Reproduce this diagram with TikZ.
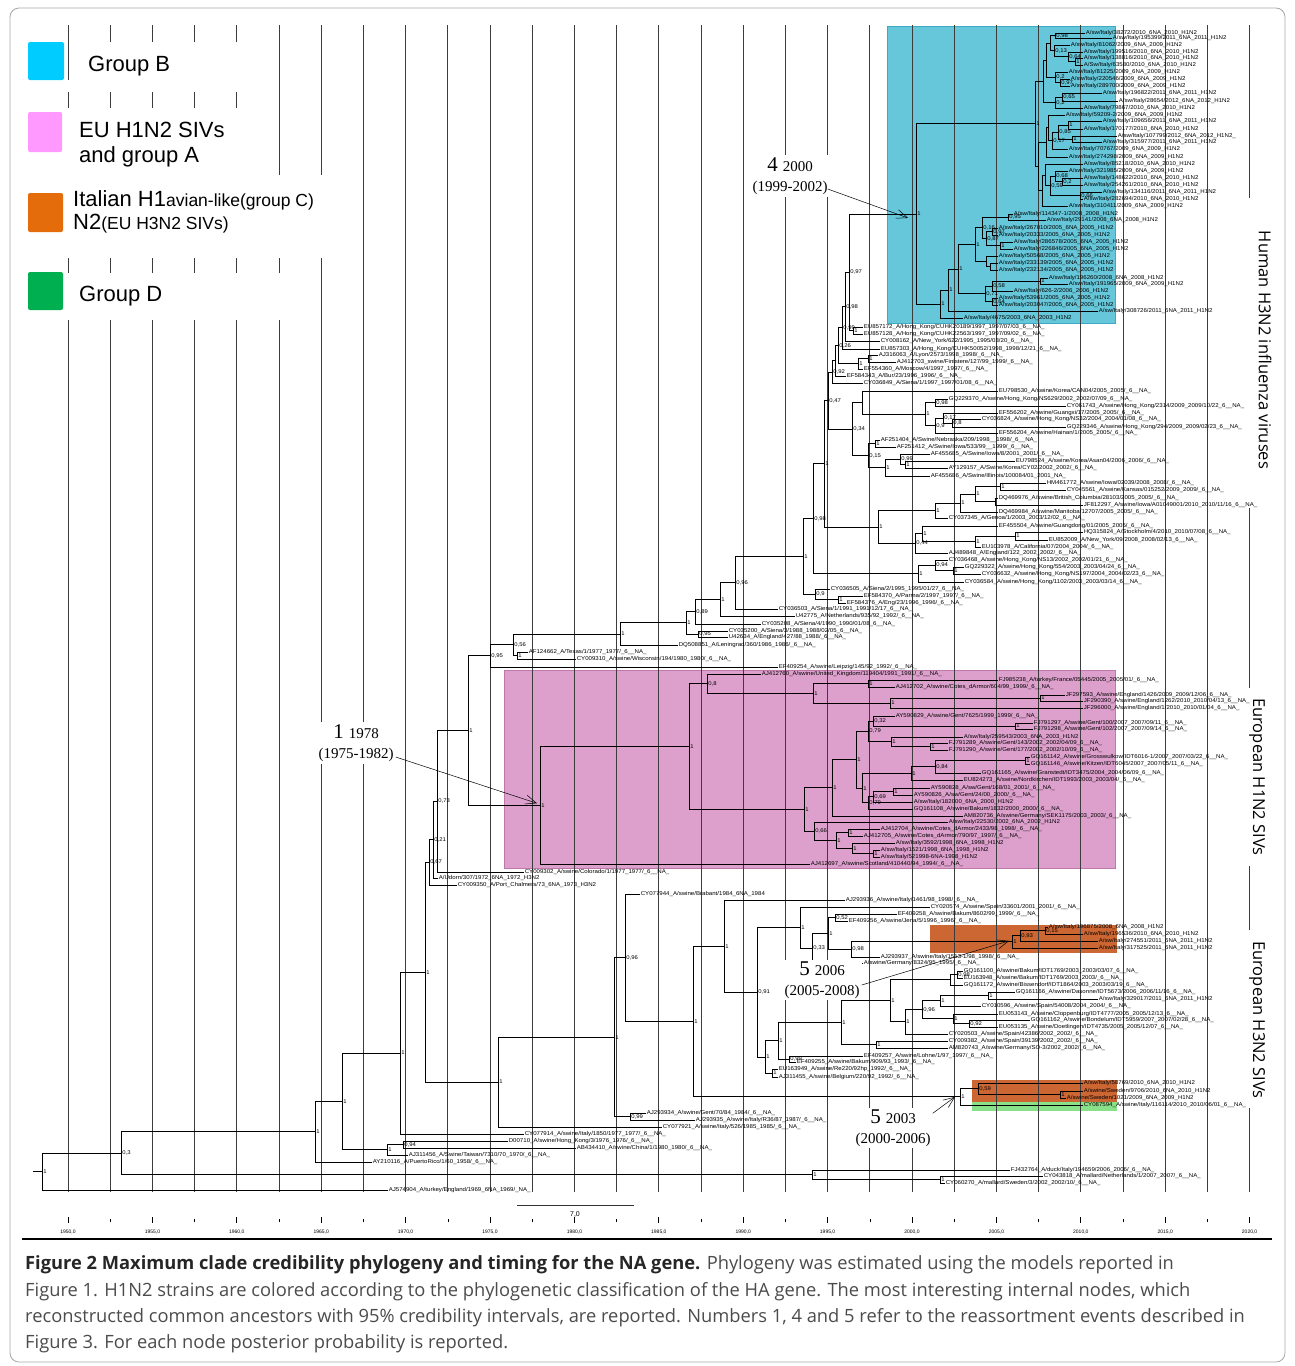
\documentclass[tikz,border=0pt]{standalone}
\usepackage{fontspec}
\usepackage{graphicx}
\setmainfont{Liberation Sans}
\newfontfamily\serifx{Liberation Serif}
\newfontfamily\capfont{Open Sans}
\usetikzlibrary{arrows.meta,calc}
\definecolor{cyanbox}{RGB}{102,199,218}
\definecolor{cyanedge}{RGB}{60,170,195}
\definecolor{pinkbox}{RGB}{221,160,204}
\definecolor{pinkedge}{RGB}{190,120,170}
\definecolor{orangebox}{RGB}{204,102,51}
\definecolor{greenbox}{RGB}{136,224,136}
\definecolor{legcyan}{RGB}{0,204,255}
\definecolor{legpink}{RGB}{255,153,255}
\definecolor{legorange}{RGB}{228,108,10}
\definecolor{leggreen}{RGB}{0,176,80}
\definecolor{captext}{RGB}{75,75,75}
\definecolor{gridc}{RGB}{60,60,60}
\tikzset{
  tl/.style={line width=0.8pt,black},
  gridl/.style={line width=0.8pt,gridc},
  lbl/.style={anchor=west,inner sep=0.6pt,font=\fontsize{6.1}{6}\selectfont},
  pp/.style={anchor=west,inner sep=1.2pt,font=\fontsize{5.9}{6}\selectfont},
  mask/.style={fill=white,draw=none},
  legsq/.style={draw=none,rounded corners=2pt,inner sep=0pt},
  legt/.style={anchor=west,inner sep=0pt,font=\fontsize{22}{24}\selectfont},
  ann/.style={align=center,fill=white,inner sep=2pt,font=\serifx\fontsize{15}{20}\selectfont},
  arrw/.style={line width=0.5pt,-{Straight Barb[length=11pt,width=9pt]}},
  rl/.style={inner sep=0pt,font=\capfont\fontsize{16.5}{18}\selectfont},
  ax/.style={inner sep=0pt,font=\fontsize{5}{5}\selectfont},
  captline/.style={anchor=west,inner sep=0pt,text=captext,font=\capfont\fontsize{18.3}{20}\selectfont}
}
\newcommand\sq[1]{\scalebox{1}[0.92]{#1}}
\newcommand\lf[4]{\coordinate (#1) at (#3,#2);\node[lbl] (#1-t) at (#1) {\sq{#4}};}
\newcommand\tn[5]{%
  \path let \p1=(#3), \p2=(#4) in ({#2pt},{(\y1+\y2)/2}) coordinate (#1);
  \draw[tl] (#1 |- #3) -- (#1 |- #4);
  \draw[tl] (#1 |- #3) -- (#3);
  \draw[tl] (#1 |- #4) -- (#4);
  \node[pp] (#1-l) at (#1) {\sq{#5}};}
\begin{document}
\catcode`\_=12
\begin{tikzpicture}[x=1pt,y=-1pt]
\useasboundingbox (0,0) rectangle (1295,1366);
% frame
\draw[gray!70,line width=0.8pt,rounded corners=9pt] (10,8) rectangle (1285,1362);
% coloured boxes
\fill[cyanbox,draw=cyanedge,line width=0.8pt] (887,26) rectangle (1115,323);
\fill[pinkbox,draw=pinkedge,line width=0.8pt] (504,670) rectangle (1115,868);
\fill[orangebox] (930,925) rectangle (1117,953);
\fill[orangebox] (972,1080) rectangle (1117,1102);
\fill[greenbox] (972,1102) rectangle (1117,1111);
% grid
\foreach \k in {0,...,28} \draw[gridl] ({68+42.2*\k},25) -- ({68+42.2*\k},1192);
% masks
\fill[mask] (70,42) rectangle (272,92);
\fill[mask] (66,80) rectangle (70,92);
\fill[mask] (14,108) rectangle (272,258);
\fill[mask] (272,175) rectangle (330,258);
\fill[mask] (14,273) rectangle (312,320);
\fill[mask] (1244,198) rectangle (1280,508);
\fill[mask] (1244,688) rectangle (1280,866);
\fill[mask] (1244,930) rectangle (1280,1108);

% ================= Group B =================
\lf{b01}{33}{1085}{A/sw/Italy/38272/2010_6NA_2010_H1N2}
\lf{b02}{38}{1112}{A/sw/Italy/195399/2011_6NA_2011_H1N2}
\lf{b03}{45}{1070}{A/sw/Italy/81062/2009_6NA_2009_H1N2}
\lf{b04}{52}{1083}{A/sw/Italy/199516/2010_6NA_2010_H1N2}
\lf{b05}{58}{1083}{A/sw/Italy/138816/2010_6NA_2010_H1N2}
\lf{b06}{65}{1083}{A/Sw/Italy/63580/2010_6NA_2010_H1N2}
\lf{b07}{72}{1068}{A/sw/Italy/81225/2009_6NA_2009_H1N2}
\lf{b08}{79}{1070}{A/sw/Italy/220546/2009_6NA_2009_H1N2}
\lf{b09}{86}{1070}{A/sw/Italy/289700/2009_6NA_2009_H1N2}
\lf{b10}{93}{1102}{A/sw/Italy/196822/2011_6NA_2011_H1N2}
\lf{b11}{101}{1118}{A/sw/Italy/28654/2012_6NA_2012_H1N2}
\lf{b12}{108}{1083}{A/sw/Italy/79867/2010_6NA_2010_H1N2}
\lf{b13}{115}{1065}{A/sw/Italy/59209-2/2009_6NA_2009_H1N2}
\lf{b14}{121}{1102}{A/sw/Italy/109656/2011_6NA_2011_H1N2}
\lf{b15}{129}{1083}{A/sw/Italy/170177/2010_6NA_2010_H1N2}
\lf{b16}{136}{1117}{A/sw/Italy/107799/2012_6NA_2012_H1N2_}
\lf{b17}{142}{1102}{A/sw/Italy/315977/2011_6NA_2011_H1N2}
\lf{b18}{149}{1068}{A/sw/Italy/70767/2009_6NA_2009_H1N2}
\lf{b19}{157}{1068}{A/sw/Italy/274298/2009_6NA_2009_H1N2}
\lf{b20}{164}{1083}{A/sw/Italy/85218/2010_6NA_2010_H1N2}
\lf{b21}{171}{1068}{A/sw/Italy/321985/2009_6NA_2009_H1N2}
\lf{b22}{178}{1083}{A/sw/Italy/148622/2010_6NA_2010_H1N2}
\lf{b23}{185}{1083}{A/sw/Italy/254261/2010_6NA_2010_H1N2}
\lf{b24}{192}{1102}{A/sw/Italy/134116/2011_6NA_2011_H1N2}
\lf{b25}{199}{1083}{A/sw/Italy/282694/2010_6NA_2010_H1N2}
\lf{b26}{206}{1068}{A/sw/Italy/310411/2009_6NA_2009_H1N2}
\tn{pa1}{1055}{b01}{b02}{0,98}
\tn{pa2a}{1075}{b05}{b06}{1}
\tn{pa2b}{1068}{b04}{pa2a}{0,64}
\tn{pa2}{1054}{b03}{pa2b}{0,13}
\tn{pa4a}{1060}{b08}{b09}{0,97}
\tn{pa4}{1055}{b07}{pa4a}{0,2}
\tn{pa5}{1050}{pa1}{pa2}{}
\tn{pa6}{1046}{pa5}{pa4}{}
\tn{pa7}{1062}{b10}{b11}{0,65}
\tn{pa8}{1055}{pa7}{b12}{0,2}
\tn{pa9}{1043}{pa6}{pa8}{}
\tn{pb1}{1068}{b14}{b15}{1}
\tn{pb2}{1072}{b16}{b17}{1}
\tn{pb3}{1058}{pb1}{pb2}{0,85}
\tn{pb4}{1052}{pb3}{b18}{0,17}
\tn{pb5}{1048}{b13}{pb4}{}
\tn{pb6}{1046}{pb5}{b19}{}
\tn{pc1}{1080}{b24}{b25}{0,66}
\tn{pc2}{1062}{b22}{b23}{0,2}
\tn{pc3}{1055}{b21}{pc2}{0,68}
\tn{pc4}{1050}{pc3}{pc1}{0,59}
\tn{pc5}{1045}{b20}{pc4}{}
\tn{pc6}{1042}{pc5}{b26}{}
\tn{pbc}{1038}{pb6}{pc6}{}
\tn{Pr}{1035}{pa9}{pbc}{1}
\lf{q01}{214}{1013}{A/sw/Italy/114347-1/2008_2008_H1N2}
\lf{q02}{220}{1046}{A/sw/Italy/29141/2008_6NA_2008_H1N2}
\lf{q03}{228}{998}{A/sw/Italy/267010/2005_6NA_2005_H1N2}
\lf{q04}{235}{998}{A/sw/Italy/20333/2005_6NA_2005_H1N2}
\lf{q05}{242}{1013}{A/sw/Italy/286578/2005_6NA_2005_H1N2}
\lf{q06}{249}{1013}{A/sw/Italy/226846/2005_6NA_2005_H1N2}
\lf{q07}{256}{998}{A/sw/Italy/50568/2005_6NA_2005_H1N2}
\lf{q08}{263}{998}{A/sw/Italy/233139/2005_6NA_2005_H1N2}
\lf{q09}{270}{998}{A/sw/Italy/232134/2005_6NA_2005_H1N2}
\lf{q10}{278}{1048}{A/sw/Italy/196260/2008_6NA_2008_H1N2}
\lf{q11}{284}{1068}{A/sw/Italy/191965/2009_6NA_2009_H1N2}
\lf{q12}{291}{1013}{A/sw/Italy/626-2/2006_2006_H1N2}
\lf{q13}{298}{998}{A/sw/Italy/53961/2005_6NA_2005_H1N2}
\lf{q14}{305}{998}{A/sw/Italy/203047/2005_6NA_2005_H1N2}
\lf{q15}{311}{1098}{A/sw/Italy/308726/2011_6NA_2011_H1N2}
\lf{q16}{318}{963}{A/sw/Italy/4675/2003_6NA_2003_H1N2}
\tn{qn1}{1008}{q01}{q02}{0,95}
\tn{qn2}{992}{q03}{q04}{0,97}
\tn{qn3}{1000}{q05}{q06}{1}
\tn{qn4}{986}{qn2}{qn3}{0,87}
\tn{qn5}{982}{qn1}{qn4}{0,16}
\tn{qn6a}{990}{q08}{q09}{}
\tn{qn6}{986}{q07}{qn6a}{}
\tn{qn7}{975}{qn5}{qn6}{1}
\tn{qn8}{1040}{q10}{q11}{1}
\tn{qn9}{992}{qn8}{q12}{0,58}
\tn{qn10}{992}{q13}{q14}{0,64}
\tn{qn11}{985}{qn9}{qn10}{0,71}
\tn{qn12}{958}{qn7}{qn11}{1}
\tn{qn13}{948}{qn12}{q15}{1}
\tn{Q}{940}{qn13}{q16}{1}
\tn{GBroot}{916}{Pr}{Q}{1}

% ================= Human H3N2 =================
\lf{h01}{327}{863}{EU857172_A/Hong_Kong/CUHK20189/1997_1997/07/03_6__NA_}
\lf{h02}{334}{863}{EU857128_A/Hong_Kong/CUHK22563/1997_1997/09/02_6__NA_}
\lf{h03}{341}{880}{CY008162_A/New_York/622/1995_1995/03/20_6__NA_}
\lf{h04}{349}{880}{EU857303_A/Hong_Kong/CUHK50052/1998_1998/12/21_6__NA_}
\lf{h05}{355}{878}{AJ316063_A/Lyon/2573/1998_1998/_6__NA_}
\lf{h06}{362}{896}{AJ412703_swine/Finistere/127/99_1999/_6__NA_}
\lf{h07}{369}{863}{EF554360_A/Moscow/4/1997_1997/_6__NA_}
\lf{h08}{376}{846}{EF584343_A/Bur/23/1996_1996/_6__NA_}
\lf{h09}{383}{863}{CY036849_A/Siena/1/1997_1997/01/08_6__NA_}
\lf{h10}{391}{998}{EU798530_A/swine/Korea/CAN04/2005_2005/_6__NA_}
\lf{h11}{399}{948}{GQ229370_A/swine/Hong_Kong/NS629/2002_2002/07/09_6__NA_}
\lf{h12}{406}{1066}{CY061743_A/swine/Hong_Kong/2314/2009_2009/10/22_6__NA_}
\lf{h13}{413}{998}{EF556202_A/swine/Guangxi/17/2005_2005/_6__NA_}
\lf{h14}{419}{981}{CY036824_A/swine/Hong_Kong/NS32/2004_2004/01/08_6__NA_}
\lf{h15}{427}{1066}{GQ229346_A/swine/Hong_Kong/294/2009_2009/02/23_6__NA_}
\lf{h16}{433}{998}{EF556204_A/swine/Hainan/1/2005_2005/_6__NA_}
\lf{h17}{440}{880}{AF251404_A/Swine/Nebraska/209/1998__1998/_6__NA_}
\lf{h18}{447}{896}{AF251412_A/Swine/Iowa/533/99__1999/_6__NA_}
\lf{h19}{454}{930}{AF455685_A/Swine/Iowa/8/2001_2001/_6__NA_}
\lf{h20}{461}{1015}{EU798524_A/swine/Korea/Asan04/2006_2006/_6__NA_}
\lf{h21}{468}{948}{AY129157_A/Swine/Korea/CY02/2002_2002/_6__NA_}
\lf{h22}{476}{930}{AF455686_A/Swine/Illinois/100084/01_2001_NA_}
\lf{h23}{483}{1046}{HM461772_A/swine/Iowa/02039/2008_2008/_6__NA_}
\lf{h24}{490}{1066}{CY045561_A/swine/Kansas/015252/2009_2009/_6__NA_}
\lf{h25}{498}{998}{DQ469976_A/swine/British_Columbia/28103/2005_2005/_6__NA_}
\lf{h26}{505}{1083}{JF812297_A/swine/Iowa/A01049001/2010_2010/11/16_6__NA_}
\lf{h27}{512}{998}{DQ469984_A/swine/Manitoba/12707/2005_2005/_6__NA_}
\lf{h28}{518}{948}{CY037345_A/Genoa/1/2003_2003/12/02_6__NA_}
\lf{h29}{526}{998}{EF455504_A/swine/Guangdong/01/2005_2005/_6__NA_}
\lf{h30}{532}{1083}{HQ315824_A/Stockholm/4/2010_2010/07/08_6__NA_}
\lf{h31}{540}{1048}{EU852009_A/New_York/09/2008_2008/02/13_6__NA_}
\lf{h32}{547}{981}{EU103978_A/California/07/2004_2004/_6__NA_}
\lf{h33}{553}{948}{AJ489848_A/England/122_2002_2002/_6__NA_}
\lf{h34}{560}{948}{CY036468_A/swine/Hong_Kong/NS13/2002_2002/01/21_6__NA_}
\lf{h35}{567}{964}{GQ229322_A/swine/Hong_Kong/554/2003_2003/04/24_6__NA_}
\lf{h36}{574}{981}{CY036632_A/swine/Hong_Kong/NS197/2004_2004/02/23_6__NA_}
\lf{h37}{582}{964}{CY036584_A/swine/Hong_Kong/1102/2003_2003/03/14_6__NA_}
\lf{h38}{589}{830}{CY036505_A/Siena/2/1995_1995/01/27_6__NA_}
\lf{h39}{596}{863}{EF584370_A/Parma/2/1997_1997/_6__NA_}
\lf{h40}{603}{846}{EF584376_A/Eng/23/1996_1996/_6__NA_}
\lf{h41}{609}{778}{CY036503_A/Siena/1/1991_1991/12/17_6__NA_}
\lf{h42}{616}{795}{U42775_A/Netherlands/935/92_1992/_6__NA_}
\lf{h43}{624}{761}{CY035208_A/Siena/4/1990_1990/01/08_6__NA_}
\lf{h44}{631}{728}{CY035200_A/Siena/3/1988_1988/02/05_6__NA_}
\lf{h45}{637}{728}{U42634_A/England/427/88_1988/_6__NA_}
\lf{h46}{645}{678}{DQ508851_A/Leningrad/360/1986_1986/_6__NA_}
\lf{h47}{652}{528}{AF124662_A/Texas/1/1977_1977/_6__NA_}
\lf{h48}{659}{576}{CY009310_A/swine/Wisconsin/194/1980_1980/_6__NA_}
\lf{h49}{667}{778}{EF409254_A/swine/Leipzig/145/92_1992/_6__NA_}
\tn{hn1}{853}{h01}{h02}{1}
\tn{N097}{849}{GBroot}{hn1}{0,97}
\tn{N098}{845}{N097}{h03}{0,98}
\tn{N099}{842}{N098}{h04}{0,99}
\tn{hly1}{868}{h05}{h06}{1}
\tn{hly2}{858}{hly1}{h07}{1}
\tn{N026}{838}{N099}{hly2}{0,26}
\tn{Nbur}{835}{N026}{h08}{}
\tn{N092}{832}{Nbur}{h09}{0,92}
\tn{hk1}{935}{h11}{h12}{0,98}
\tn{hk2}{952}{h14}{h15}{0,8}
\tn{hk3}{943}{h13}{hk2}{0,17}
\tn{hk4}{935}{hk3}{h16}{0,9}
\tn{hk5}{925}{hk1}{hk4}{1}
\tn{hk6}{862}{h10}{hk5}{}
\tn{us1}{875}{h17}{h18}{1}
\tn{us2}{905}{h20}{h21}{1}
\tn{us3}{900}{h19}{us2}{0,99}
\tn{us4}{885}{us3}{h22}{1}
\tn{us5}{868}{us1}{us4}{0,15}
\tn{n034}{852}{hk6}{us5}{0,34}
\tn{N047}{828}{N092}{n034}{0,47}
\tn{uA1}{1000}{h23}{h24}{1}
\tn{uA2}{995}{h25}{h26}{}
\tn{uA3}{975}{uA1}{uA2}{1}
\tn{uA4}{960}{uA3}{h27}{1}
\tn{uA5}{935}{uA4}{h28}{1}
\tn{us6}{1015}{h30}{h31}{1}
\tn{us7}{975}{us6}{h32}{1}
\tn{us8}{922}{h29}{us7}{1}
\tn{us9}{915}{us8}{h33}{0,44}
\tn{nUS}{878}{uA5}{us9}{1}
\tn{n1h}{824}{N047}{nUS}{1}
\tn{hk7}{953}{h35}{h36}{1}
\tn{hk8}{935}{h34}{hk7}{0,94}
\tn{nHK}{918}{hk8}{h37}{1}
\tn{n098}{813}{n1h}{nHK}{0,98}
\tn{nPE}{838}{h39}{h40}{1}
\tn{n09}{815}{h38}{nPE}{0,9}
\tn{n1s}{803}{n098}{n09}{1}
\tn{n096}{735}{n1s}{h41}{0,96}
\tn{n1n}{720}{n096}{h42}{1}
\tn{n089}{695}{n1n}{h43}{0,89}
\tn{ns3}{698}{h44}{h45}{0,95}
\tn{nbig}{686}{n089}{ns3}{1}
\tn{n1L}{620}{nbig}{h46}{1}
\tn{ntw}{517}{h47}{h48}{1}
\tn{n056}{513}{n1L}{ntw}{0,56}
\tn{n095}{490}{n056}{h49}{0,95}

% ================= EU H1N2 (pink) =================
\lf{e01}{674}{761}{AJ412760_A/swine/United_Kingdom/119404/1991_1991/_6__NA_}
\lf{e02}{680}{998}{FJ985238_A/turkey/France/05445/2005_2005/01/_6__NA_}
\lf{e03}{687}{895}{AJ412702_A/swine/Cotes_dArmor/604/99_1999/_6__NA_}
\lf{e04}{695}{1065}{JF297593_A/swine/England/1426/2009_2009/12/06_6__NA_}
\lf{e05}{701}{1083}{JF290390_A/swine/England/1262/2010_2010/04/13_6__NA_}
\lf{e06}{708}{1083}{JF296000_A/swine/England/1/2010_2010/01/04_6__NA_}
\lf{e07}{716}{895}{AY590829_A/swine/Gent/7625/1999_1999/_6__NA_}
\lf{e08}{723}{1033}{FJ791297_A/swine/Gent/100/2007_2007/09/11_6__NA_}
\lf{e09}{729}{1033}{FJ791298_A/swine/Gent/102/2007_2007/09/14_6__NA_}
\lf{e10}{737}{963}{A/sw/Italy/259543/2003_6NA_2003_H1N2}
\lf{e11}{743}{948}{FJ791289_A/swine/Gent/143/2002_2002/04/09_6__NA_}
\lf{e12}{750}{948}{FJ791290_A/swine/Gent/177/2002_2002/10/09_6__NA_}
\lf{e13}{757}{1030}{GQ161142_A/swine/Grosswulkow/IDT6016-1/2007_2007/03/22_6__NA_}
\lf{e14}{764}{1030}{GQ161146_A/swine/Kitzen/IDT6045/2007_2007/05/11_6__NA_}
\lf{e15}{773}{981}{GQ161165_A/swine/Granstedt/IDT3475/2004_2004/06/09_6__NA_}
\lf{e16}{780}{963}{EU824273_A/swine/Nordkirchen/IDT1993/2003_2003/04/_6__NA_}
\lf{e17}{788}{930}{AY590828_A/sw/Gent/168/01_2001/_6__NA_}
\lf{e18}{795}{913}{AY590826_A/sw/Gent/24/00_2000/_6__NA_}
\lf{e19}{802}{913}{A/sw/Italy/182000_6NA_2000_H1N2}
\lf{e20}{809}{913}{GQ161108_A/swine/Bakum/1832/2000_2000/_6__NA_}
\lf{e21}{816}{963}{AM820736_A/swine/Germany/SEK1175/2003_2003/_6__NA_}
\lf{e22}{822}{948}{A/sw/Italy/22530/2002_6NA_2002_H1N2}
\lf{e23}{829}{880}{AJ412704_A/swine/Cotes_dArmor/2433/98_1998/_6__NA_}
\lf{e24}{836}{863}{AJ412705_A/swine/Cotes_dArmor/790/97_1997/_6__NA_}
\lf{e25}{843}{895}{A/sw/Italy/3592/1998_6NA_1998_H1N2}
\lf{e26}{850}{880}{A/sw/Italy/1521/1998_6NA_1998_H1N2}
\lf{e27}{857}{880}{A/sw/Italy/521998-6NA-1998_H1N2}
\lf{e28}{864}{810}{AJ412697_A/swine/Scotland/410440/94_1994/_6__NA_}
\tn{pe1}{868}{e02}{e03}{1}
\tn{pe2}{1040}{e04}{e05}{1}
\tn{pe3}{890}{pe2}{e06}{1}
\tn{pe4}{813}{pe1}{pe3}{1}
\tn{pe5}{707}{e01}{pe4}{0,8}
\tn{pf1}{1015}{e08}{e09}{1}
\tn{pf2}{873}{e07}{pf1}{0,32}
\tn{pf3}{930}{e11}{e12}{1}
\tn{pf4}{891}{e10}{pf3}{1}
\tn{pf5}{868}{pf2}{pf4}{0,79}
\tn{pg1}{1025}{e13}{e14}{1}
\tn{pg2}{935}{pg1}{e15}{0,84}
\tn{pg3}{911}{pg2}{e16}{1}
\tn{pg4}{893}{e17}{e18}{1}
\tn{pg5}{873}{pg4}{e19}{0,69}
\tn{pg6}{868}{pg5}{e20}{0,79}
\tn{pg7}{862}{pg3}{pg6}{1}
\tn{pP4}{856}{pf5}{pg7}{1}
\tn{pP3}{832}{pP4}{e21}{1}
\tn{pi1}{848}{e23}{e24}{1}
\tn{pi2}{873}{e26}{e27}{1}
\tn{pi3}{852}{e25}{pi2}{1}
\tn{pi4}{836}{pi1}{pi3}{1}
\tn{p066}{814}{e22}{pi4}{0,66}
\tn{pP2}{804}{pP3}{p066}{1}
\tn{pP1}{689}{pe5}{pP2}{1}
\tn{proot}{540}{pP1}{e28}{1}
\tn{n1top}{468}{n095}{proot}{1}

% ================= backbone =================
\lf{k01}{872}{524}{CY009302_A/swine/Colorado/1/1977_1977/_6__NA_}
\lf{k02}{878}{438}{A/Udorn/307/1972_6NA_1972_H3N2}
\lf{k03}{885}{457}{CY009350_A/Port_Chalmers/73_6NA_1973_H3N2}
\tn{n073}{437}{n1top}{k01}{0,73}
\tn{n021}{433}{n073}{k02}{0,21}
\tn{n067}{429}{n021}{k03}{0,67}

% ================= European H3N2 / group C / D =================
\lf{c01}{894}{640}{CY077944_A/swine/Brabant/1984_6NA_1984}
\lf{c02}{900}{845}{AJ293936_A/swine/Italy/1461/98_1998/_6__NA_}
\lf{c03}{907}{930}{CY020574_A/swine/Spain/33601/2001_2001/_6__NA_}
\lf{c04}{914}{897}{EF409258_A/swine/Bakum/8602/99_1999/_6__NA_}
\lf{c05}{921}{848}{EF409256_A/swine/Jena/5/1996_1996/_6__NA_}
\lf{c06}{927}{1048}{A/sw/Italy/196875/2008_6NA_2008_H1N2}
\lf{c07}{934}{1083}{A/sw/Italy/196536/2010_6NA_2010_H1N2}
\lf{c08}{941}{1098}{A/sw/Italy/274551/2011_6NA_2011_H1N2}
\lf{c09}{948}{1098}{A/sw/Italy/317525/2011_6NA_2011_H1N2}
\lf{c10}{957}{880}{AJ293937_A/swine/Italy/1513-1/98_1998/_6__NA_}
\lf{c11}{963}{863}{A/swine/Germany/8324/95_1995/_6__NA_}
\lf{c12}{971}{963}{GQ161100_A/swine/Bakum/IDT1769/2003_2003/03/07_6__NA_}
\lf{c13}{978}{963}{EU163948_A/swine/Bakum/IDT1769/2003_2003/_6__NA_}
\lf{c14}{985}{963}{GQ161172_A/swine/Bissendorf/IDT1864/2003_2003/03/19_6__NA_}
\lf{c15}{992}{1015}{GQ161166_A/swine/Dasonne/IDT5673/2006_2006/11/16_6__NA_}
\lf{c16}{999}{1098}{A/sw/Italy/329017/2011_6NA_2011_H1N2}
\lf{c17}{1006}{981}{CY010596_A/swine/Spain/54008/2004_2004/_6__NA_}
\lf{c18}{1014}{998}{EU053143_A/swine/Cloppenburg/IDT4777/2005_2005/12/13_6__NA_}
\lf{c19}{1020}{1030}{GQ161162_A/swine/Bondelum/IDT5959/2007_2007/02/28_6__NA_}
\lf{c20}{1027}{998}{EU053135_A/swine/Doetlingen/IDT4735/2005_2005/12/07_6__NA_}
\lf{c21}{1034}{948}{CY020503_A/swine/Spain/42386/2002_2002/_6__NA_}
\lf{c22}{1041}{948}{CY009382_A/swine/Spain/39139/2002_2002/_6__NA_}
\lf{c23}{1048}{948}{AM820743_A/swine/Germany/SO-3/2002_2002/_6__NA_}
\lf{c24}{1056}{863}{EF409257_A/swine/Lohne/1/97_1997/_6__NA_}
\lf{c25}{1062}{796}{EF409255_A/swine/Bakum/909/93_1993/_6__NA_}
\lf{c26}{1069}{778}{EU163949_A/swine/Re220/92hp_1992/_6__NA_}
\lf{c27}{1077}{778}{AJ311455_A/swine/Belgium/220/92_1992/_6__NA_}
\lf{c28}{1083}{1083}{A/sw/Italy/58769/2010_6NA_2010_H1N2}
\lf{c29}{1091}{1083}{A/swine/Sweden/9706/2010_6NA_2010_H1N2}
\lf{c30}{1098}{1066}{A/swine/Sweden/1021/2009_6NA_2009_H1N2}
\lf{c31}{1105}{1083}{CY087594_A/swine/Italy/116114/2010_2010/06/01_6__NA_}
\lf{c32}{1113}{646}{AJ293934_A/swine/Gent/70/84_1984/_6__NA_}
\lf{c33}{1120}{695}{AJ293935_A/swine/Italy/R36/87_1987/_6__NA_}
\lf{c34}{1127}{662}{CY077921_A/swine/Italy/526/1985_1985/_6__NA_}
\lf{c35}{1134}{524}{CY077914_A/swine/Italy/1850/1977_1977/_6__NA_}
\lf{c36}{1141}{508}{D00710_A/swine/Hong_Kong/3/1976_1976/_6__NA_}
\lf{c37}{1148}{576}{AB434410_A/swine/China/1/1980_1980/_6__NA_}
\lf{c38}{1155}{408}{AJ311456_A/Swine/Taiwan/7310/70_1970/_6__NA_}
\lf{c39}{1162}{372}{AY210116_A/PuertoRico/1/60_1958/_6__NA_}
\lf{a01}{1170}{1010}{FJ432764_A/duck/Italy/194659/2006_2006/_6__NA_}
\lf{a02}{1176}{1043}{CY043818_A/mallard/Netherlands/1/2007_2007/_6__NA_}
\lf{a03}{1183}{945}{CY060270_A/mallard/Sweden/3/2002_2002/10/_6__NA_}
\lf{r01}{1190}{388}{AJ574904_A/turkey/England/1969_6NA_1969/_NA_}
\tn{co1}{1045}{c06}{c07}{0,15}
\tn{co2}{1020}{co1}{c08}{0,93}
\tn{co3}{1012}{co2}{c09}{1}
\tn{c098}{851}{co3}{c10}{0,98}
\tn{c052}{835}{c04}{c05}{0,52}
\tn{c1a}{828}{c052}{c098}{1}
\tn{c033}{812}{c1a}{c11}{0,33}
\tn{cCa}{800}{c03}{c033}{1}
\tn{ng1}{957}{c12}{c13}{0,98}
\tn{ng2}{950}{ng1}{c14}{}
\tn{ng3}{988}{c15}{c16}{1}
\tn{ng4}{940}{ng3}{c17}{1}
\tn{ng5}{969}{c19}{c20}{0,92}
\tn{ng6}{953}{c18}{ng5}{1}
\tn{ng7}{922}{ng4}{ng6}{0,96}
\tn{ng8}{905}{ng7}{c21}{1}
\tn{ng9}{890}{ng2}{ng8}{1}
\tn{nSp}{876}{c22}{c23}{1}
\tn{ng10}{841}{ng9}{nSp}{1}
\tn{nLo}{789}{c24}{c25}{0,99}
\tn{nBe}{772}{c26}{c27}{1}
\tn{ng11}{778}{ng10}{nLo}{1}
\tn{ng12}{765}{ng11}{nBe}{1}
\tn{n091}{757}{cCa}{ng12}{0,91}
\tn{n1c}{724}{c02}{n091}{1}
\tn{nsw}{1060}{c29}{c30}{1}
\tn{n059}{978}{c28}{nsw}{0,59}
\tn{n2003}{960}{n059}{c31}{1}
\tn{n1b}{693}{n1c}{n2003}{1}
\tn{n096b}{625}{c01}{n1b}{0,96}
\tn{n099}{630}{c32}{c33}{0,99}
\tn{n614}{614}{n096b}{n099}{1}
\tn{F}{498}{n614}{c34}{1}
\tn{E}{425}{n067}{F}{1}
\tn{D}{400}{E}{c35}{1}
\tn{C3}{403}{c36}{c37}{0,94}
\tn{C2}{387}{C3}{c38}{1}
\tn{C}{342}{D}{C2}{1}
\tn{B}{315}{C}{c39}{1}
\tn{Av2}{940}{a02}{a03}{1}
\tn{Av}{812}{a01}{Av2}{1}
\tn{A}{121}{B}{Av}{0,3}
\tn{R}{42}{A}{r01}{1}
\draw[tl] (R) -- ++(-9,0);

% ================= annotations =================
\node[ann] (an4) at (790,176) {{\fontsize{21}{21}\selectfont 4}\,\,2000\\(1999-2002)};
\node[ann] (an1) at (356,743) {{\fontsize{21}{21}\selectfont 1}\,\,1978\\(1975-1982)};
\node[ann] (an5a) at (822,980) {{\fontsize{21}{21}\selectfont 5}\,\,2006\\(2005-2008)};
\node[ann] (an5b) at (893,1128) {{\fontsize{21}{21}\selectfont 5}\,\,2003\\(2000-2006)};
\draw[arrw] ($(an4.east)+(-2,13)$) -- ($(GBroot)+(-8,4)$);
\draw[arrw] ($(an1.east)+(0,14)$) -- ($(proot)+(-3,-2)$);
\draw[arrw] ($(an5a.east)+(0,5)$) -- ($(co3)+(-3,-1)$);
\draw[arrw] ($(an5b.north east)+(0,6)$) -- ($(n2003)+(-5,0)$);

% ================= right labels =================
\node[rl,rotate=-90] (lhum) at (1265,350) {Human H3N2 influenza viruses};
\node[rl,rotate=-90] (leu1) at (1257,777) {European H1N2 SIVs};
\node[rl,rotate=-90] (leu3) at (1257,1020) {European H3N2 SIVs};

% ================= legend =================
\node[legsq,fill=legcyan,minimum width=36pt,minimum height=38pt] (sqB) at (46,61) {};
\node[legsq,fill=legpink,minimum width=34pt,minimum height=40pt] (sqP) at (45,132) {};
\node[legsq,fill=legorange,minimum width=35pt,minimum height=39pt] (sqO) at (45.5,212.5) {};
\node[legsq,fill=leggreen,minimum width=35pt,minimum height=38pt] (sqG) at (45.5,291) {};
\node[legt] (tB) at (88,66) {Group B};
\node[legt] (tP1) at (79,130) {EU H1N2 SIVs};
\node[legt] (tP2) at (79,157) {and group A};
\node[legt] (tO1) at (73,200) {Italian H1{\fontsize{17.5}{17}\selectfont avian-like(group C)}};
\node[legt] (tO2) at (73,224) {N2{\fontsize{17.5}{17}\selectfont (EU H3N2 SIVs)}};
\node[legt] (tG) at (79,296) {Group D};

% ================= axis =================
\foreach \k in {0,...,14} {
  \pgfmathtruncatemacro\yr{1950+5*\k}
  \draw[line width=0.7pt] ({68+84.4*\k},1217) -- ++(0,6);
  \node[ax] (ax\k) at ({68+84.4*\k},1232) {\yr,0};
}
\foreach \k in {0,...,13} \draw[line width=0.6pt] ({110.2+84.4*\k},1219) -- ++(0,3);
\coordinate (ax1l) at (22,1239); \coordinate (ax1r) at (1272,1239);
\draw[line width=2.4pt] (ax1l) -- (ax1r);
\coordinate (sb1) at (517,1205); \coordinate (sb2) at (634,1205);
\draw[line width=0.9pt,black!80] (sb1) -- (sb2);
\node[inner sep=0pt,font=\fontsize{7}{7}\selectfont] (sbl) at (575,1214) {7,0};

% ================= caption =================
\node[captline] (cl1) at (25,1265) {{\bfseries\color{black!85}Figure 2 Maximum clade credibility phylogeny and timing for the NA gene.} Phylogeny was estimated using the models reported in};
\node[captline] (cl2) at (25,1292) {Figure 1. H1N2 strains are colored according to the phylogenetic classification of the HA gene. The most interesting internal nodes, which};
\node[captline] (cl3) at (25,1318) {reconstructed common ancestors with 95\% credibility intervals, are reported. Numbers 1, 4 and 5 refer to the reassortment events described in};
\node[captline] (cl4) at (25,1344) {Figure 3. For each node posterior probability is reported.};
\end{tikzpicture}
\end{document}
